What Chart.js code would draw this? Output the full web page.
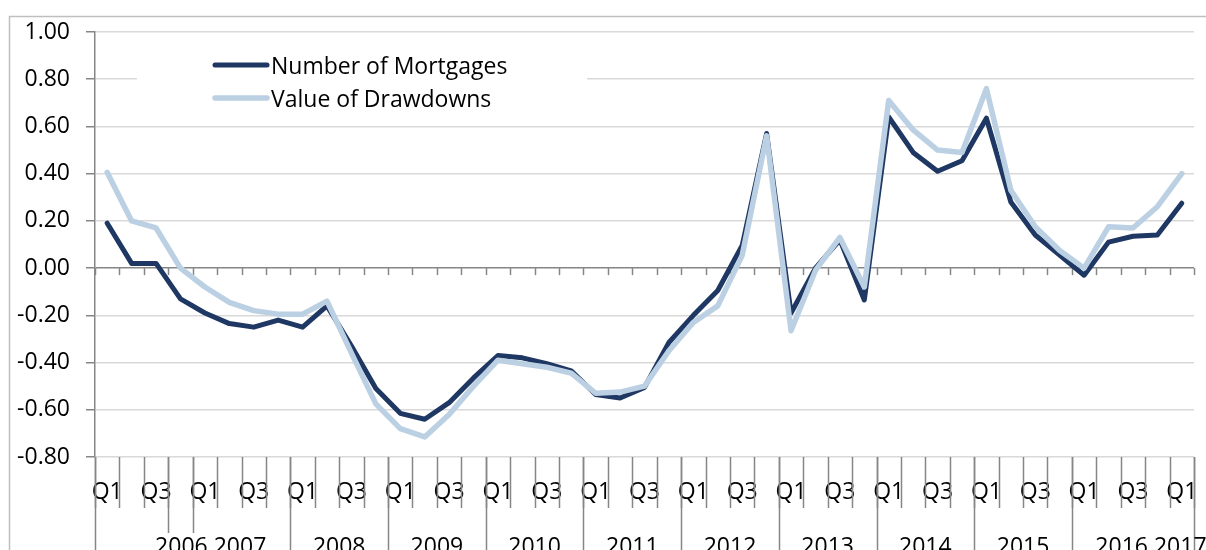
<!DOCTYPE html>
<html>
<head>
<meta charset="utf-8">
<script src="https://cdn.jsdelivr.net/npm/chart.js@4/dist/chart.umd.min.js"></script>
<style>
  html, body { margin: 0; padding: 0; background: #ffffff; }
  #wrap { width: 1206px; height: 550px; position: relative; }
</style>
</head>
<body>
<div id="wrap"><canvas id="c" width="1206" height="550"></canvas></div>
<script>
// ---- data ----
const quarterLabels = [
  'Q1','Q2','Q3','Q4', 'Q1','Q2','Q3','Q4', 'Q1','Q2','Q3','Q4', 'Q1','Q2','Q3','Q4',
  'Q1','Q2','Q3','Q4', 'Q1','Q2','Q3','Q4', 'Q1','Q2','Q3','Q4', 'Q1','Q2','Q3','Q4',
  'Q1','Q2','Q3','Q4', 'Q1','Q2','Q3','Q4', 'Q1','Q2','Q3','Q4', 'Q1'
];
const yearLabels = ['2006 2007','2008','2009','2010','2011','2012','2013','2014','2015','2016 2017'];
const yearStarts = [0, 8, 12, 16, 20, 24, 28, 32, 36, 40];
const extraSeparators = [3, 4];
const seriesNames = ['Number of Mortgages', 'Value of Drawdowns'];
const mortgages = [0.19, 0.02, 0.02, -0.13, -0.19, -0.235, -0.25, -0.22, -0.25, -0.16,
  -0.33, -0.51, -0.615, -0.64, -0.57, -0.465, -0.37, -0.38, -0.405, -0.435,
  -0.535, -0.55, -0.505, -0.315, -0.20, -0.095, 0.096, 0.57, -0.19, 0.0,
  0.12, -0.135, 0.64, 0.49, 0.41, 0.455, 0.635, 0.28, 0.14, 0.055,
  -0.03, 0.11, 0.135, 0.14, 0.275];
const drawdowns = [0.405, 0.20, 0.17, 0.0, -0.08, -0.145, -0.18, -0.195, -0.195, -0.14,
  -0.36, -0.575, -0.68, -0.715, -0.62, -0.50, -0.39, -0.405, -0.42, -0.445,
  -0.53, -0.525, -0.50, -0.35, -0.23, -0.16, 0.054, 0.56, -0.265, -0.01,
  0.13, -0.08, 0.71, 0.585, 0.50, 0.49, 0.76, 0.33, 0.175, 0.075,
  0.0, 0.175, 0.17, 0.26, 0.40];
const yMin = -0.8, yMax = 1.0, yStep = 0.2;

// ---- style ----
const DARK = '#1F3763';
const LIGHT = '#BCD0E4';
const AXIS = '#868686';
const GRID = '#D9D9D9';
const FONT = "'Open Sans', 'Noto Sans', sans-serif";
const FSIZE = 23;

Chart.defaults.font.family = FONT;
Chart.defaults.font.size = FSIZE;
Chart.defaults.color = '#000000';

const framePlugin = {
  id: 'frame',
  beforeDraw(chart) {
    const ctx = chart.ctx;
    ctx.save();
    ctx.fillStyle = '#ffffff';
    ctx.fillRect(0, 0, chart.width, chart.height);
    ctx.strokeStyle = '#BFBFBF';
    ctx.lineWidth = 1.5;
    ctx.strokeRect(9.5, 16.5, chart.width + 20, chart.height + 20);
    ctx.restore();
  },
  beforeDatasetsDraw(chart) {
    const ctx = chart.ctx;
    const x = chart.scales.x, y = chart.scales.y;
    const half = (x.getPixelForValue(1) - x.getPixelForValue(0)) / 2;
    const bx = (i) => x.getPixelForValue(i) - half; // left boundary of category i
    const y0 = y.getPixelForValue(0);
    const yb = chart.chartArea.bottom;
    ctx.save();
    ctx.strokeStyle = AXIS;
    ctx.lineWidth = 1.5;
    // tick marks on the zero line
    for (let i = 0; i <= quarterLabels.length; i++) {
      const px = Math.round(bx(i)) + 0.5;
      ctx.beginPath(); ctx.moveTo(px, y0); ctx.lineTo(px, y0 + 7); ctx.stroke();
    }
    // category separators under the plot
    for (let i = 0; i <= quarterLabels.length; i++) {
      const px = Math.round(bx(i)) + 0.5;
      ctx.beginPath(); ctx.moveTo(px, yb); ctx.lineTo(px, yb + 51); ctx.stroke();
    }
    // year group separators
    const longs = yearStarts.concat([quarterLabels.length]);
    for (const i of longs) {
      const px = Math.round(bx(i)) + 0.5;
      ctx.beginPath(); ctx.moveTo(px, yb); ctx.lineTo(px, chart.height); ctx.stroke();
    }
    for (const i of extraSeparators) {
      const px = Math.round(bx(i)) + 0.5;
      ctx.beginPath(); ctx.moveTo(px, yb); ctx.lineTo(px, yb + 76); ctx.stroke();
    }
    // year labels
    ctx.fillStyle = '#000000';
    ctx.font = FSIZE + 'px ' + FONT;
    ctx.textAlign = 'center';
    ctx.textBaseline = 'alphabetic';
    for (let g = 0; g < yearLabels.length; g++) {
      const s = yearStarts[g];
      const e = g + 1 < yearStarts.length ? yearStarts[g + 1] : quarterLabels.length;
      let cx = (bx(s) + bx(e)) / 2;
      if (yearLabels[g].indexOf(' ') >= 0) cx += 18;
      ctx.fillText(yearLabels[g], cx, 554);
    }
    // legend (inside plot, white box over gridlines)
    ctx.fillStyle = '#ffffff';
    ctx.fillRect(137, 44, 450, 70);
    ctx.textAlign = 'left';
    ctx.textBaseline = 'middle';
    chart.data.datasets.forEach((ds, i) => {
      const ly = 65 + 33 * i;
      ctx.strokeStyle = ds.borderColor;
      ctx.lineWidth = ds.borderWidth;
      ctx.lineCap = 'round';
      ctx.beginPath(); ctx.moveTo(215, ly); ctx.lineTo(267, ly); ctx.stroke();
      ctx.fillStyle = '#000000';
      ctx.fillText(ds.label, 271, ly + 2);
    });
    ctx.restore();
  }
};

new Chart(document.getElementById('c'), {
  type: 'line',
  data: {
    labels: quarterLabels,
    datasets: [
      { label: seriesNames[0], data: mortgages, borderColor: DARK, backgroundColor: DARK,
        borderWidth: 5, order: 1 },
      { label: seriesNames[1], data: drawdowns, borderColor: LIGHT, backgroundColor: LIGHT,
        borderWidth: 5.5, order: 0 }
    ]
  },
  options: {
    responsive: false,
    animation: false,
    devicePixelRatio: 1,
    layout: { padding: { left: 0, right: 12, top: 32, bottom: 0 } },
    elements: {
      point: { radius: 0, hoverRadius: 0 },
      line: { tension: 0, borderJoinStyle: 'round', borderCapStyle: 'round' }
    },
    plugins: {
      legend: { display: false },
      tooltip: { enabled: false }
    },
    scales: {
      x: {
        offset: true,
        grid: { display: false, drawTicks: false, offset: true },
        border: { display: false },
        ticks: {
          autoSkip: false, maxRotation: 0, minRotation: 0, padding: 22,
          color: '#000000',
          callback: function (val, idx) { return idx % 2 === 0 ? quarterLabels[idx] : ''; }
        },
        afterFit(scale) { scale.height = 93; scale.paddingLeft = 0; scale.paddingRight = 0; }
      },
      y: {
        min: yMin, max: yMax,
        grid: {
          color: (c) => (c.tick && Math.abs(c.tick.value) < 1e-9 ? AXIS : GRID),
          lineWidth: 1.5,
          tickLength: 9,
          tickColor: AXIS,
          drawTicks: true
        },
        border: { display: true, color: AXIS, width: 1.5 },
        ticks: {
          stepSize: yStep, padding: 16, color: '#000000',
          callback: (v) => v.toFixed(2)
        },
        afterFit(scale) { scale.width = 95; }
      }
    }
  },
  plugins: [framePlugin]
});
</script>
</body>
</html>
